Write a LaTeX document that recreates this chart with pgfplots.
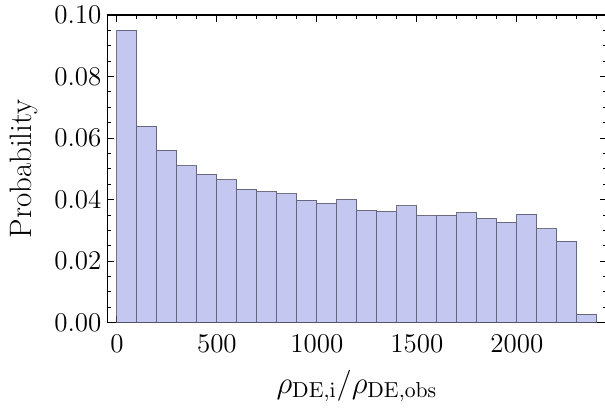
\RequirePackage{fix-cm}
\documentclass[border=0pt]{standalone}
\usepackage{pgfplots}
\pgfplotsset{compat=1.18}
\definecolor{barfill}{RGB}{196,200,240}
\definecolor{baredge}{RGB}{70,70,90}
\begin{document}
\begin{tikzpicture}
\begin{axis}[
  scale only axis,
  width=249.6pt, height=153.85pt,
  xmin=-48, xmax=2448,
  ymin=0, ymax=0.1,
  axis line style={line width=0.6pt},
  xtick={0,500,...,2000},
  minor xtick={100,200,...,2400},
  ytick={0,0.02,0.04,0.06,0.08,0.1},
  minor ytick={0.005,0.01,0.015,0.025,0.03,0.035,0.045,0.05,0.055,0.065,0.07,0.075,0.085,0.09,0.095},
  tick align=inside,
  tick pos=both,
  major tick length=3.5pt,
  minor tick length=2pt,
  every tick/.style={black, line width=0.5pt},
  yticklabel style={/pgf/number format/fixed, /pgf/number format/fixed zerofill, /pgf/number format/precision=2},
  xticklabel style={/pgf/number format/1000 sep={}},
  tick label style={font=\fontsize{13.5}{16}\selectfont},
  yticklabel style={inner sep=0pt, xshift=-2.75pt},
  xticklabel style={inner sep=0pt, yshift=-5.8pt},
  label style={font=\fontsize{15.5}{18}\selectfont},
  xlabel={$\rho_{\mathrm{DE,i}}/\rho_{\mathrm{DE,obs}}$},
  ylabel={Probability},
  xlabel style={at={(axis description cs:0.5,0)}, anchor=base, yshift=-35.15pt},
  ylabel style={at={(axis description cs:0,0.5)}, anchor=base, yshift=37.8pt},
]
\addplot[ybar interval, fill=barfill, draw=baredge, draw opacity=0.75, line width=0.5pt] coordinates {
(0,0.0951) (100,0.0639) (200,0.0561) (300,0.0510) (400,0.0482)
(500,0.0465) (600,0.0434) (700,0.0426) (800,0.0419) (900,0.0398)
(1000,0.0388) (1100,0.0401) (1200,0.0365) (1300,0.0362) (1400,0.0380)
(1500,0.0348) (1600,0.0349) (1700,0.0358) (1800,0.0339) (1900,0.0326)
(2000,0.0353) (2100,0.0305) (2200,0.0265) (2300,0.0028) (2400,0.0028)
};
\end{axis}
\pgfresetboundingbox
\path (current axis.south west) ++(-53.65pt,-42.65pt) rectangle ++(302.5pt,204pt);
\end{tikzpicture}
\end{document}
